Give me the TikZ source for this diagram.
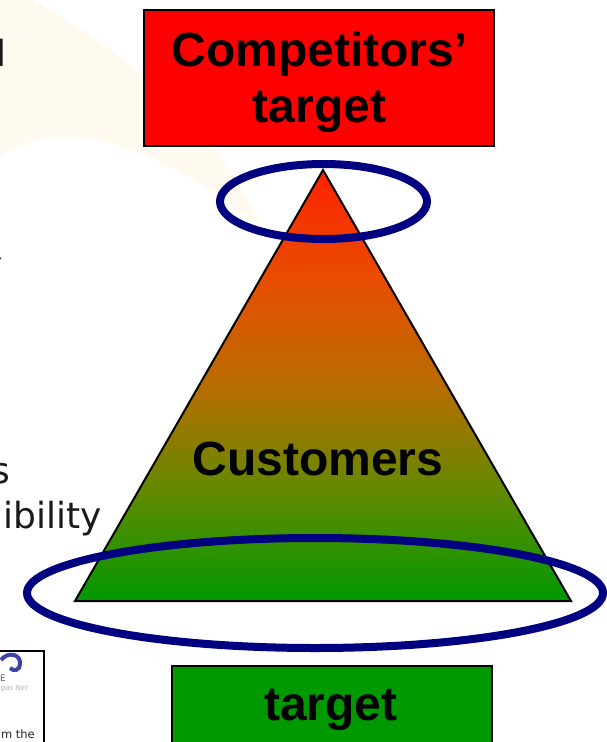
\documentclass[tikz,border=0pt]{standalone}
\usepackage{fontspec}
\setmainfont{Liberation Sans}
\newfontfamily\bodyfont{DejaVu Sans}
\definecolor{cream}{HTML}{FEFAF0}
\definecolor{navyring}{HTML}{000080}
\definecolor{boxgreen}{HTML}{009900}
\pgfdeclareverticalshading{pyramidfade}{100bp}{
  rgb(0bp)=(0,0.60,0);
  rgb(25bp)=(0,0.60,0);
  rgb(37.5bp)=(0.38,0.54,0);
  rgb(50bp)=(0.72,0.43,0);
  rgb(62.5bp)=(0.91,0.30,0);
  rgb(75bp)=(1,0.13,0);
  rgb(100bp)=(1,0.13,0)}
\tikzset{
  x=1pt,y=-1pt,
  labelbox/.style={draw=black,line width=2.4pt,inner sep=0pt,anchor=north west},
  biglabel/.style={font=\fontsize{48}{56.5}\selectfont\bfseries,text=black,align=center,inner sep=0pt},
  ring/.style={draw=navyring,line width=8pt},
  bodytext/.style={font=\bodyfont\fontsize{36}{42}\selectfont,text=black!90,inner sep=0pt},
}
\begin{document}
\begin{tikzpicture}
\useasboundingbox (0,0) rectangle (607,742);
\clip (0,0) rectangle (607,742);
% background swoosh
\fill[cream] (33,0) .. controls (130,55) and (220,130) .. (262,228)
  .. controls (210,185) and (130,135) .. (60,137) .. controls (30,138) and (10,150) .. (0,157) -- (0,0) -- cycle;
% clipped left-hand text
\node[bodytext,anchor=base east] (t1) at (7,66) {l};
\node[bodytext,anchor=base east] (t2) at (3,277) {y};
\node[bodytext,anchor=base east] (t3) at (10,483) {s};
\node[bodytext,anchor=base east] (t4) at (102,528) {ibility};
% boxes
\node[labelbox,fill=red,minimum width=350pt,minimum height=136pt] (comp) at (143,9) {};
\node[biglabel] (complabel) at (319.5,82) {Competitors’\\target};
\node[labelbox,fill=boxgreen,minimum width=320pt,minimum height=100pt] (tgt) at (171,665) {};
\node[biglabel] (tgtlabel) at (331,710) {target};
% triangle
\coordinate (apex) at (323,170);
\coordinate (bl) at (75,601);
\coordinate (br) at (571,601);
\fill[shading=pyramidfade] (apex) -- (br) -- (bl) -- cycle;
\draw[line width=2pt,line join=miter] (apex) -- (br) -- (bl) -- cycle;
\node[biglabel] (cust) at (318,459) {Customers};
% rings
\draw[ring] (323.5,201.5) ellipse [x radius=103.5,y radius=37.5];
\draw[ring] (315,593) ellipse [x radius=288,y radius=55];
% thumbnail
\draw[line width=1.6pt,fill=white] (-5,651) rectangle (44,750);
\draw[line width=4pt,blue!55!black!75] (1,660) .. controls (8,651) and (21,654) .. (20,664) .. controls (20,670) and (14,672) .. (10,668);
\node[font=\bodyfont\fontsize{9}{11}\selectfont,text=black!60,anchor=base west,inner sep=0pt] (thumbe) at (0,681) {E};
\node[font=\bodyfont\itshape\fontsize{7}{9}\selectfont,text=blue!20!black!30,anchor=base east,inner sep=0pt] (thumbn) at (28,690) {gas Net};
\node[font=\bodyfont\fontsize{11.5}{13}\selectfont,text=black!85,anchor=base east,inner sep=0pt] (thumb) at (35,738) {m the};
\end{tikzpicture}
\end{document}
